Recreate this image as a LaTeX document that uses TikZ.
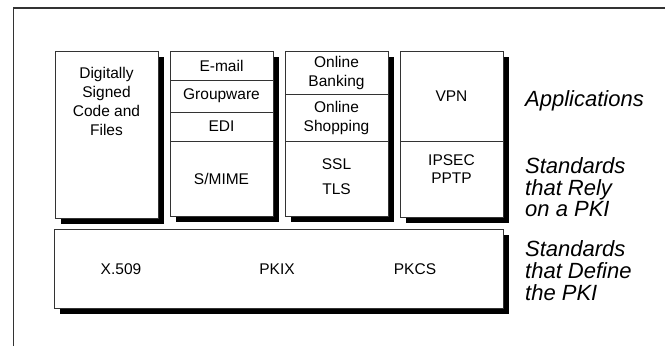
\documentclass[tikz,border=0pt]{standalone}
\usepackage{fontspec}
\setmainfont{Liberation Sans}
\usetikzlibrary{shadows}
\begin{document}
\begin{tikzpicture}[x=1pt,y=-1pt,
  box/.style={draw=black!80, line width=0.9pt, fill=white, rectangle, inner sep=0pt, outer sep=0pt, anchor=north west, minimum width=103pt},
  shbox/.style={box, drop shadow={shadow xshift=5.5pt, shadow yshift=-5.5pt, fill=black, opacity=1}},
  sec/.style={box, font=\fontsize{15.5}{19}\selectfont, align=center},
  txt/.style={font=\fontsize{15.5}{19}\selectfont, align=center, inner sep=0pt},
  lab/.style={font=\fontsize{22}{21.6}\selectfont\itshape, inner sep=0pt, anchor=base west}]
\useasboundingbox (0,0) rectangle (665,346);
% frame
\coordinate (fbl) at (13.5,346);
\coordinate (ftl) at (13.5,8);
\coordinate (ftr) at (665,8);
\draw[line width=1.2pt, black!80] (fbl) -- (ftl) -- (ftr);
% box 1
\node[shbox, minimum height=167pt] (b1) at (55,51) {};
\node[txt] (t1) at (106.5,101) {Digitally\\Signed\\Code and\\Files};
% box 2
\node[shbox, minimum height=165pt] (b2) at (170,51) {};
\node[sec, minimum height=29pt] (email) at (170,51) {E-mail};
\node[sec, minimum height=32pt] (groupware) at (170,80) {Groupware};
\node[sec, minimum height=29pt] (edi) at (170,112) {EDI};
\node[sec, minimum height=75pt] (smime) at (170,141) {S/MIME};
% box 3
\node[shbox, minimum height=165pt] (b3) at (285,51) {};
\node[sec, minimum height=43pt] (banking) at (285,51) {Online\\Banking};
\node[sec, minimum height=47pt] (shopping) at (285,94) {Online\\Shopping};
\node[box, minimum height=75pt] (ssl) at (285,141) {};
\node[txt] (tssl) at (336.5,164.3) {SSL};
\node[txt] (ttls) at (336.5,189) {TLS};
% box 4
\node[shbox, minimum height=166pt] (b4) at (400,51) {};
\node[sec, minimum height=90pt] (vpn) at (400,51) {VPN};
\node[box, minimum height=76pt] (ipsec) at (400,141) {};
\node[txt] (tipsec) at (451.5,160.5) {IPSEC};
\node[txt] (tpptp) at (451.5,178) {PPTP};
% bottom box
\node[shbox, minimum width=449pt, minimum height=79pt] (pki) at (54,229) {};
\node[txt] (x509) at (121,269) {X.509};
\node[txt] (pkix) at (277,269) {PKIX};
\node[txt] (pkcs) at (415,269) {PKCS};
% labels
\node[lab] (lapp) at (525,106) {Applications};
\node[lab] (lrely1) at (525,173.5) {Standards};
\node[lab] (lrely2) at (525,195) {that Rely};
\node[lab] (lrely3) at (525,216.5) {on a PKI};
\node[lab] (ldef1) at (525,256.5) {Standards};
\node[lab] (ldef2) at (525,278.2) {that Define};
\node[lab] (ldef3) at (525,300) {the PKI};
\end{tikzpicture}
\end{document}
